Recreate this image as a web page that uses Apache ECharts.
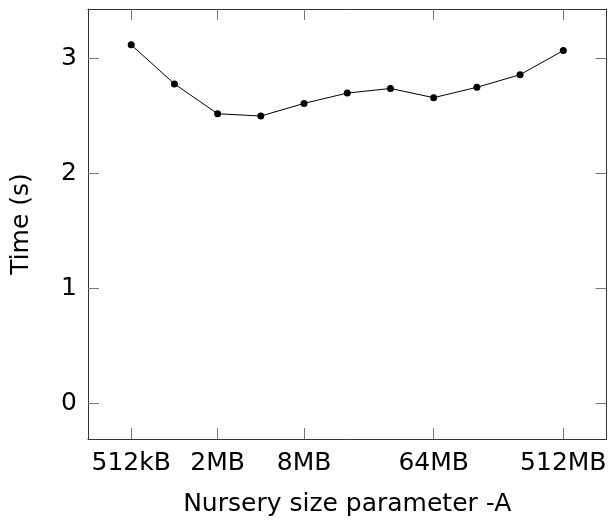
<!DOCTYPE html>
<html>
<head>
    <meta charset="utf-8">
    <title>Nursery size</title>
    <script src="https://cdn.jsdelivr.net/npm/echarts@6/dist/echarts.min.js"></script>
</head>
<style>
    body { margin: 0; background: #fff; }
</style>
<body>
    <div id="main" style="width: 611px;height:521px;"></div>
    <script type="text/javascript">
        // nursery sizes in kB, one point per doubling
        var sizesKB = [512, 1024, 2048, 4096, 8192, 16384, 32768, 65536, 131072, 262144, 524288];
        var times = [3.12, 2.78, 2.52, 2.50, 2.61, 2.70, 2.74, 2.66, 2.75, 2.86, 3.07];
        // labelled ticks (kB) and their texts
        var tickKB = [512, 2048, 8192, 65536, 524288];
        var tickLabels = ['512kB', '2MB', '8MB', '64MB', '512MB'];
        var yTicks = [0, 1, 2, 3];

        // position on the axis = doublings above 512kB
        function pos(kb) { return Math.log2(kb / 512); }
        var tickPos = tickKB.map(pos);
        var data = sizesKB.map(function (kb, i) { return [pos(kb), times[i]]; });

        var font = 'DejaVu Sans';
        var fs = 25;
        var lineCol = '#333';
        var tickCol = '#777';
        var myChart = echarts.init(document.getElementById('main'));
        var option = {
            animation: false,
            grid: { left: 88, right: 4.5, top: 9, bottom: 82, outerBoundsMode: 'none' },
            xAxis: [{
                type: 'value',
                min: -1, max: 11,
                name: 'Nursery size parameter -A',
                nameLocation: 'middle',
                nameGap: 53,
                nameTextStyle: { fontFamily: font, fontSize: fs, color: '#000' },
                axisLine: { onZero: false, lineStyle: { color: lineCol, width: 1 } },
                axisTick: { inside: true, length: 11, customValues: tickPos, lineStyle: { color: tickCol } },
                axisLabel: {
                    customValues: tickPos,
                    fontFamily: font, fontSize: fs, color: '#000', margin: 12,
                    formatter: function (v) {
                        var i = tickPos.indexOf(v);
                        return i >= 0 ? tickLabels[i] : '';
                    }
                },
                splitLine: { show: false }
            }, {
                type: 'value', position: 'top',
                min: -1, max: 11,
                axisLine: { show: true, onZero: false, lineStyle: { color: lineCol, width: 1 } },
                axisTick: { inside: true, length: 11, customValues: tickPos, lineStyle: { color: tickCol } },
                axisLabel: { show: false },
                splitLine: { show: false }
            }],
            yAxis: [{
                type: 'value',
                min: -0.312, max: 3.432,
                name: 'Time (s)',
                nameLocation: 'middle',
                nameGap: 54,
                nameTextStyle: { fontFamily: font, fontSize: fs, color: '#000' },
                axisLine: { show: true, onZero: false, lineStyle: { color: lineCol, width: 1 } },
                axisTick: { inside: true, length: 11, customValues: yTicks, lineStyle: { color: tickCol } },
                axisLabel: { customValues: yTicks, fontFamily: font, fontSize: fs, color: '#000', margin: 11 },
                splitLine: { show: false }
            }, {
                type: 'value', position: 'right',
                min: -0.312, max: 3.432,
                axisLine: { show: true, onZero: false, lineStyle: { color: lineCol, width: 1 } },
                axisTick: { inside: true, length: 11, customValues: yTicks, lineStyle: { color: tickCol } },
                axisLabel: { show: false },
                splitLine: { show: false }
            }],
            series: [{
                type: 'line',
                data: data,
                symbol: 'circle',
                symbolSize: 7,
                itemStyle: { color: '#000' },
                lineStyle: { color: '#000', width: 1 }
            }]
        };
        myChart.setOption(option);
    </script>
</body>
</html>
